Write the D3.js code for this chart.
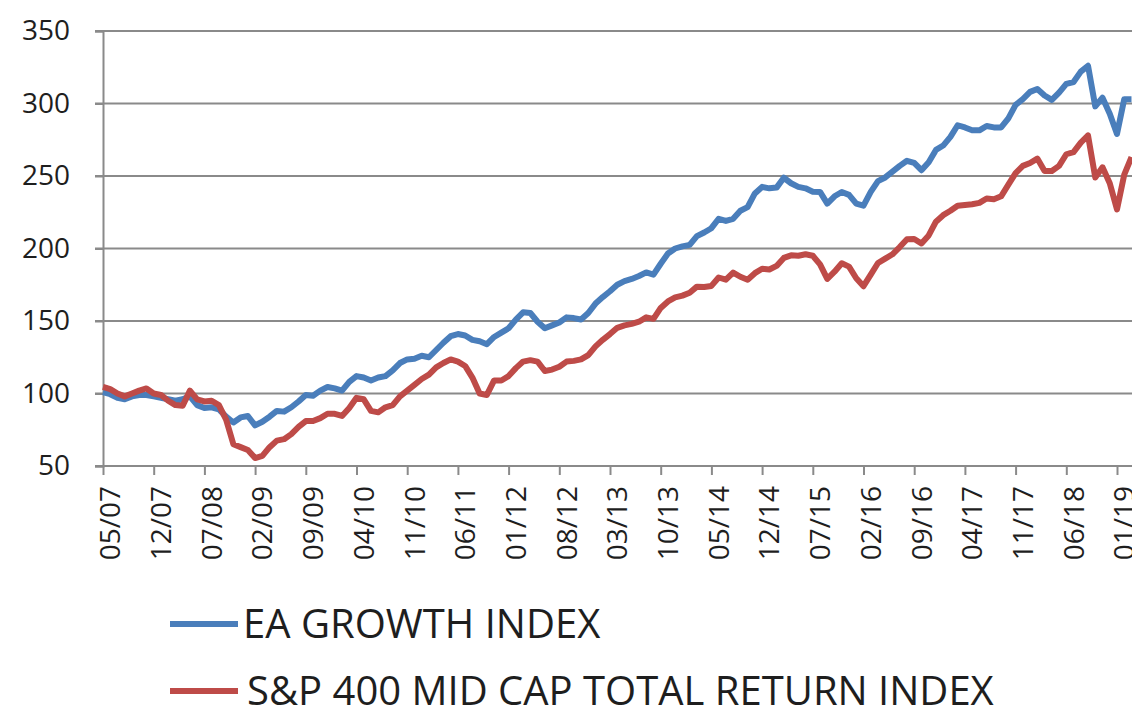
<!DOCTYPE html>
<html>
<head>
<meta charset="utf-8">
<script src="https://cdn.jsdelivr.net/npm/d3@7"></script>
<style>
  body { margin: 0; background: #fff; }
  svg text { font-family: "Open Sans", sans-serif; fill: #1e1e1e; }
</style>
</head>
<body>
<svg id="chart" width="1132" height="712"></svg>
<script>
// monthly index values, 05/07 .. 03/19
const eaGrowth = [
  101, 99.5, 97, 96, 98, 99, 99, 98, 97, 96, 95, 96, 98, 92, 90, 90.5, 89, 84, 80, 83.5,
  84.5, 78, 80.5, 84, 88, 87.5, 90.5, 94.5, 99, 98.5, 102, 104.5, 103.5, 102, 108, 112, 111, 109, 111, 112,
  116, 121, 123.5, 124, 126, 125, 130, 135, 139.5, 141, 140, 137, 136, 134, 139, 142, 145, 151, 156, 155.5,
  149.5, 145, 147, 149, 152.5, 152, 151, 155.5, 162, 166.5, 170.5, 175, 177.5, 179, 181, 183.5, 182, 189.5, 196.5, 200,
  201.5, 202.5, 208.5, 211, 214, 220.5, 219, 220.5, 226, 228.5, 238, 242.5, 241.5, 242, 248.8, 245, 242.5, 241.5, 239.2, 239,
  231, 236, 239, 237, 231, 229.5, 239, 246.5, 249, 253, 257, 260.5, 259, 254, 259.5, 268, 271, 277, 285, 283.5,
  281.5, 281.5, 284.5, 283.5, 283.5, 289.7, 299, 303, 308, 310, 305.5, 302.5, 307.5, 313.5, 314.8, 322, 326, 298, 304, 293,
  279, 303, 303
];
const spMidCap = [
  104.5, 103, 100, 98, 100, 102, 103.5, 100, 99, 95, 92, 91.5, 102, 96, 94.5, 95, 92, 82, 65, 63,
  61, 55.5, 57, 63, 67.5, 68.5, 72, 77, 81, 81, 83, 86, 86, 84.5, 90, 97, 96, 88, 87, 90.5,
  92, 98, 102, 106, 110, 113, 118, 121, 123.5, 122, 119, 111, 100, 99, 109, 109, 112, 117.5, 122, 123,
  122, 115.5, 116.5, 118.5, 122, 122.5, 123.5, 126.5, 132.5, 137, 141, 145.3, 147, 148, 149.5, 152.5, 151.5, 159, 163.5, 166.3,
  167.5, 169.5, 173.7, 173.5, 174.2, 180, 178.5, 183.4, 180.5, 178.5, 183, 186, 185.5, 188, 193.5, 195.3, 195, 196, 195, 189,
  179, 184, 189.8, 187.5, 179.5, 174, 182, 190, 193, 196, 201, 206.4, 206.6, 203.5, 209, 218.5, 223, 226, 229.5, 230,
  230.5, 231.5, 234.5, 234, 236, 244, 252, 257, 259, 262, 253.5, 253.5, 257, 265, 266.5, 273, 278, 249, 256, 245,
  227, 251, 263
];
const tickLabels = ["05/07", "12/07", "07/08", "02/09", "09/09", "04/10", "11/10", "06/11", "01/12", "08/12",
  "03/13", "10/13", "05/14", "12/14", "07/15", "02/16", "09/16", "04/17", "11/17", "06/18", "01/19"];
const tickStep = 7; // months between labels
const yTicks = [50, 100, 150, 200, 250, 300, 350];
const seriesNames = ["EA GROWTH INDEX", "S&P 400 MID CAP TOTAL RETURN INDEX"];
const seriesColors = ["#4a7ebb", "#be4b48"];

const svg = d3.select("#chart");

const x = d3.scaleLinear()
    .domain([0, (tickLabels.length - 1) * tickStep])
    .range([103, 1117]);
const y = d3.scaleLinear().domain([50, 350]).range([466, 31]);

// gridlines
svg.append("g")
    .selectAll("line")
    .data(yTicks)
    .join("line")
    .attr("x1", 95)
    .attr("x2", 1132)
    .attr("y1", d => y(d))
    .attr("y2", d => y(d))
    .attr("stroke", "#8a8a8a")
    .attr("stroke-width", 2);

// y axis
const yAxis = svg.append("g")
    .attr("transform", "translate(103,0)")
    .call(d3.axisLeft(y).tickValues(yTicks).tickSize(8).tickPadding(25));
yAxis.select(".domain").attr("stroke", "#8a8a8a").attr("stroke-width", 2);
yAxis.selectAll(".tick line").attr("stroke", "#8a8a8a").attr("stroke-width", 2);
yAxis.selectAll(".tick text").attr("font-size", 28).attr("font-family", "Open Sans").attr("fill", "#1e1e1e");

// x axis
const xAxis = svg.append("g")
    .attr("transform", "translate(0,466)")
    .call(d3.axisBottom(x)
        .tickValues(tickLabels.map((d, i) => i * tickStep))
        .tickFormat((d, i) => tickLabels[i])
        .tickSize(9));
xAxis.select(".domain").attr("d", "M103,0H1132").attr("stroke", "#8a8a8a").attr("stroke-width", 2);
xAxis.selectAll(".tick line").attr("stroke", "#8a8a8a").attr("stroke-width", 2);
xAxis.selectAll(".tick text")
    .attr("font-size", 28)
    .attr("font-family", "Open Sans")
    .attr("fill", "#1e1e1e")
    .attr("text-anchor", "end")
    .attr("transform", "rotate(-90)")
    .attr("x", -20)
    .attr("y", 0)
    .attr("dy", "0.6em");

// lines
const line = d3.line()
    .x((d, i) => x(i))
    .y(d => y(d));

[eaGrowth, spMidCap].forEach((series, k) => {
    svg.append("path")
        .datum(series)
        .attr("fill", "none")
        .attr("stroke", seriesColors[k])
        .attr("stroke-width", 6)
        .attr("stroke-linejoin", "round")
        .attr("d", line);
});

// legend
const legend = svg.append("g");
const legendY = [624, 691];
seriesNames.forEach((name, k) => {
    legend.append("line")
        .attr("x1", 170).attr("x2", 238)
        .attr("y1", legendY[k]).attr("y2", legendY[k])
        .attr("stroke", seriesColors[k])
        .attr("stroke-width", 6);
    legend.append("text")
        .attr("x", k === 0 ? 243 : 247)
        .attr("y", legendY[k] + 14)
        .attr("font-size", 40)
        .text(name);
});
</script>
</body>
</html>
